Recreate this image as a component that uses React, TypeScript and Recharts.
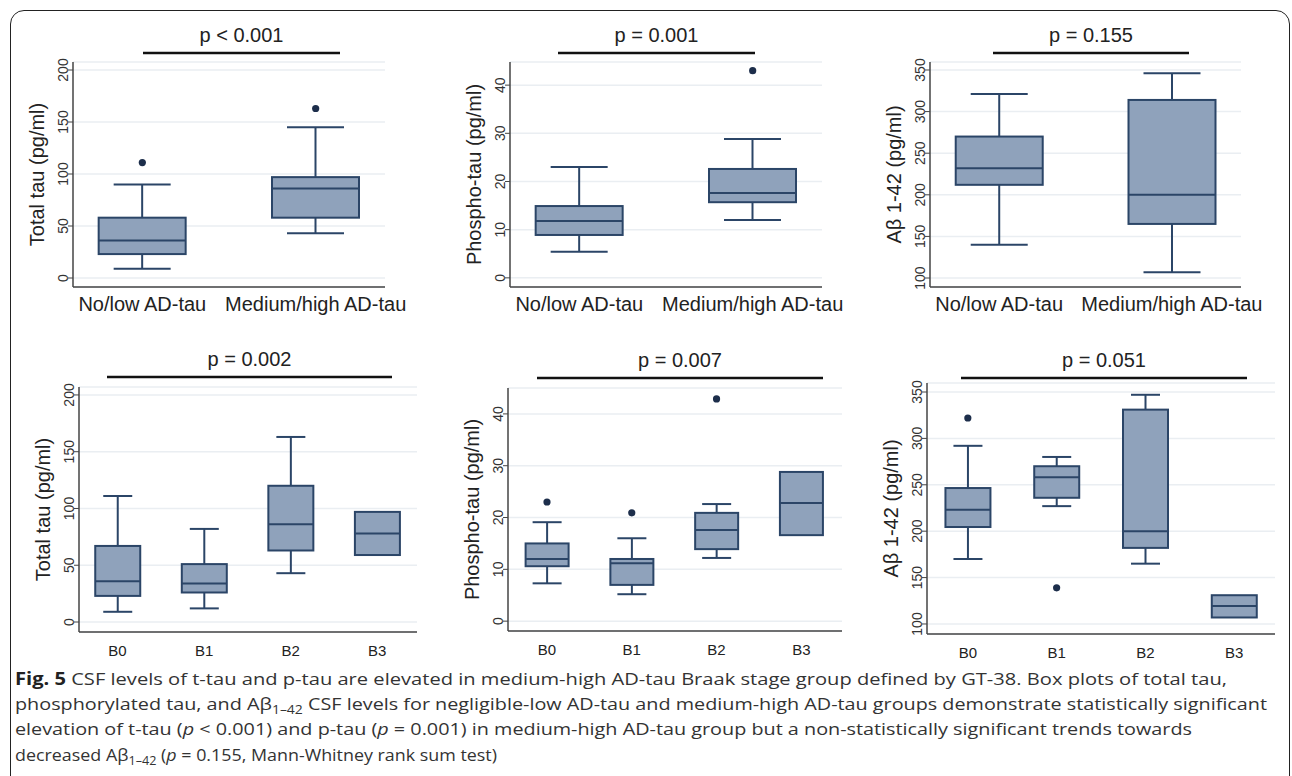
import React from 'react'
import { ComposedChart, Bar, Scatter, XAxis, YAxis, CartesianGrid, Label } from 'recharts'

const adGroups = ['No/low AD-tau', 'Medium/high AD-tau']
const braakGroups = ['B0', 'B1', 'B2', 'B3']

// box stats per group: [min, q1, median, q3, max]
const tTauAD = [[9, 23, 36, 58, 90], [43, 58, 86, 97, 145]]
const tTauADOut = [111, 163]
const pTauAD = [[5.4, 8.9, 11.8, 14.9, 23], [12, 15.7, 17.6, 22.6, 28.8]]
const pTauADOut = [null, 43]
const abAD = [[140, 212, 232, 270, 321], [107, 165, 200, 314, 346]]
const abADOut = [null, null]

const tTauBraak = [[9, 23, 36, 67, 111], [12, 26, 34, 51, 82], [43, 63, 86, 120, 163], [59, 59, 78, 97, 97]]
const tTauBraakOut = [null, null, null, null]
const pTauBraak = [[7.3, 10.6, 12, 15, 19.1], [5.2, 7, 11.2, 12, 16], [12.2, 13.9, 17.6, 20.9, 22.6], [16.6, 16.6, 22.8, 28.8, 28.8]]
const pTauBraakOut = [23, 20.9, 42.9, null]
const abBraak = [[170, 204.5, 223, 246.5, 292], [227, 236, 258, 270, 280], [165, 182, 200, 331, 347], [107, 107, 119.5, 131, 131]]
const abBraakOut = [322, 139, null, null]

const pLabels = ['p < 0.001', 'p = 0.001', 'p = 0.155', 'p = 0.002', 'p = 0.007', 'p = 0.051']
const yLabels = ['Total tau (pg/ml)', 'Phospho-tau (pg/ml)', 'Aβ 1-42 (pg/ml)']
const tauTicks = [0, 50, 100, 150, 200]
const pTauTicks = [0, 10, 20, 30, 40]
const abTicks = [100, 150, 200, 250, 300, 350]

const NAVY = '#2b4567'
const FILL = '#8fa2bb'

const toRows = (stats: number[][], out: (number | null)[]) =>
  stats.map((s, i) => ({
    pos: i + 1,
    range: [s[0], s[4]],
    lo: s[0], q1: s[1], med: s[2], q3: s[3], hi: s[4],
    outlier: out[i],
  }))

function BoxShape(props: any) {
  const { x, y, width, height, payload, capW } = props
  if (x == null || y == null) return <g />
  const top = Math.min(y, y + height)
  const bottom = Math.max(y, y + height)
  const { lo, q1, med, q3, hi } = payload
  // map values inside the bar's [lo, hi] pixel span
  const py = (v: number) => (hi === lo ? top : bottom - ((v - lo) / (hi - lo)) * (bottom - top))
  const cx = x + width / 2
  const yq1 = py(q1), yq3 = py(q3), ym = py(med)
  return (
    <g>
      {hi > q3 && (
        <>
          <line x1={cx} x2={cx} y1={top} y2={yq3} stroke={NAVY} strokeWidth={2} />
          <line x1={cx - capW / 2} x2={cx + capW / 2} y1={top} y2={top} stroke={NAVY} strokeWidth={2} />
        </>
      )}
      {lo < q1 && (
        <>
          <line x1={cx} x2={cx} y1={yq1} y2={bottom} stroke={NAVY} strokeWidth={2} />
          <line x1={cx - capW / 2} x2={cx + capW / 2} y1={bottom} y2={bottom} stroke={NAVY} strokeWidth={2} />
        </>
      )}
      <rect x={x} y={yq3} width={width} height={yq1 - yq3} fill={FILL} stroke={NAVY} strokeWidth={2} />
      <line x1={x} x2={x + width} y1={ym} y2={ym} stroke={NAVY} strokeWidth={2} />
    </g>
  )
}

function YTick(props: any) {
  const { x, y, payload } = props
  return (
    <text x={x} y={y} transform={`rotate(-90, ${x}, ${y})`} textAnchor="middle"
      fontSize={14} fill="#333" fontFamily="Liberation Sans, Arial, sans-serif">
      {payload.value}
    </text>
  )
}

interface PanelProps {
  rows: any[]
  cats: string[]
  yLabel: string
  yDomain: number[]
  yTicks: number[]
  xDomain: number[]
  p: string
  plot: { l: number; r: number; t: number; b: number }
  boxW: number
  capW: number
  xFont: number
  pLine: number[]
  pY: number
}

const YW = 75
const XH = 40
const RM = 45

function Panel({ rows, cats, yLabel, yDomain, yTicks, xDomain, p, plot, boxW, capW, xFont, pLine, pY }: PanelProps) {
  const left = plot.l - YW
  const top = plot.t - 5
  const w = plot.r - left + RM
  const h = plot.b - top + XH
  const ticks = cats.map((_, i) => i + 1)
  return (
    <>
      <svg style={{ position: 'absolute', left: 0, top: 0, overflow: 'visible' }} width={1} height={1}>
        <text x={(pLine[0] + pLine[1]) / 2} y={pY} textAnchor="middle" fontSize={20}
          fill="#222" fontFamily="Liberation Sans, Arial, sans-serif">{p}</text>
        <line x1={pLine[0]} x2={pLine[1]} y1={pY + 11} y2={pY + 11} stroke="#111" strokeWidth={2.5} />
      </svg>
      <div style={{ position: 'absolute', left, top }}>
        <ComposedChart width={w} height={h} data={rows} margin={{ top: 5, right: RM, left: 0, bottom: 0 }}>
          <CartesianGrid vertical={false} stroke="#eaeef2" strokeWidth={1.5} />
          <XAxis type="number" dataKey="pos" domain={xDomain} ticks={ticks} allowDataOverflow
            height={XH} tickLine={false} tickSize={0} axisLine={{ stroke: '#444', strokeWidth: 1.5 }}
            tick={(t: any) => (
              <text x={t.x} y={t.y + 22} textAnchor="middle" fontSize={xFont} fill="#222"
                fontFamily="Liberation Sans, Arial, sans-serif">{cats[t.payload.value - 1]}</text>
            )} />
          <YAxis type="number" domain={yDomain} ticks={yTicks} allowDataOverflow width={YW}
            tickSize={5} tickMargin={0} tickLine={{ stroke: '#444' }}
            axisLine={{ stroke: '#444', strokeWidth: 1.5 }} tick={<YTick />}>
            <Label content={(lp: any) => {
              const vb = lp.viewBox || { x: 0, y: 5, width: YW, height: plot.b - plot.t }
              const lx = vb.x + vb.width - 29
              const ly = vb.y + vb.height / 2
              return (
                <text x={lx} y={ly} transform={`rotate(-90, ${lx}, ${ly})`} textAnchor="middle"
                  fontSize={20} fill="#222" fontFamily="Liberation Sans, Arial, sans-serif">{yLabel}</text>
              )
            }} />
          </YAxis>
          <Bar dataKey="range" barSize={boxW} isAnimationActive={false}
            shape={(bp: any) => <BoxShape {...bp} capW={capW} />} />
          <Scatter dataKey="outlier" isAnimationActive={false}
            shape={(sp: any) => (sp.payload?.outlier == null ? <g /> :
              <circle cx={sp.cx} cy={sp.cy} r={3.6} fill="#1d2e4b" />)} />
        </ComposedChart>
      </div>
    </>
  )
}

const FONT_CAP = "'Open Sans', 'Noto Sans', sans-serif"

function Sub() {
  return <tspan fontSize={12} dy={4}>1–42</tspan>
}

export default function App() {
  const top = { t: 62, b: 287 }
  return (
    <div style={{ position: 'absolute', left: 0, top: 0, width: 1292, height: 776, overflow: 'hidden', background: '#fff' }}>
      <div style={{ position: 'absolute', left: 10, top: 10, width: 1278, height: 800, border: '1.5px solid #222', borderRadius: 14 }} />
      <Panel rows={toRows(tTauAD, tTauADOut)} cats={adGroups} yLabel={yLabels[0]} yDomain={[-8.65, 207.7]}
        yTicks={tauTicks} xDomain={[0.6, 2.4]} p={pLabels[0]} plot={{ l: 73, r: 385, ...top }}
        boxW={87} capW={57} xFont={20} pLine={[143, 340]} pY={42} />
      <Panel rows={toRows(pTauAD, pTauADOut)} cats={adGroups} yLabel={yLabels[1]} yDomain={[-1.9, 44.8]}
        yTicks={pTauTicks} xDomain={[0.6, 2.4]} p={pLabels[1]} plot={{ l: 510, r: 822, ...top }}
        boxW={87} capW={57} xFont={20} pLine={[558, 755]} pY={42} />
      <Panel rows={toRows(abAD, abADOut)} cats={adGroups} yLabel={yLabels[2]} yDomain={[89.2, 359.6]}
        yTicks={abTicks} xDomain={[0.6, 2.4]} p={pLabels[2]} plot={{ l: 930, r: 1241, ...top }}
        boxW={87} capW={57} xFont={20} pLine={[993, 1189]} pY={42} />
      <Panel rows={toRows(tTauBraak, tTauBraakOut)} cats={braakGroups} yLabel={yLabels[0]} yDomain={[-8.8, 207]}
        yTicks={tauTicks} xDomain={[0.555, 4.46]} p={pLabels[3]} plot={{ l: 79, r: 417, t: 387, b: 632 }}
        boxW={45} capW={29} xFont={15} pLine={[107, 392]} pY={366} />
      <Panel rows={toRows(pTauBraak, pTauBraakOut)} cats={braakGroups} yLabel={yLabels[1]} yDomain={[-1.9, 45]}
        yTicks={pTauTicks} xDomain={[0.54, 4.48]} p={pLabels[4]} plot={{ l: 508, r: 842, t: 388, b: 631 }}
        boxW={43} capW={29} xFont={15} pLine={[537, 823]} pY={367} />
      <Panel rows={toRows(abBraak, abBraakOut)} cats={braakGroups} yLabel={yLabels[2]} yDomain={[89.2, 359.7]}
        yTicks={abTicks} xDomain={[0.54, 4.46]} p={pLabels[5]} plot={{ l: 927, r: 1275, t: 383, b: 634 }}
        boxW={45} capW={29} xFont={15} pLine={[961, 1247]} pY={367} />
      <svg style={{ position: 'absolute', left: 0, top: 0 }} width={1292} height={776}>
        <g fontFamily={FONT_CAP} fontSize={17} fill="#333">
          <text x={15} y={685} textLength={1212} lengthAdjust="spacingAndGlyphs">
            <tspan fontWeight="bold" fill="#222">Fig. 5</tspan> CSF levels of t-tau and p-tau are elevated in medium-high AD-tau Braak stage group defined by GT-38. Box plots of total tau,
          </text>
          <text x={15} y={710} textLength={1252} lengthAdjust="spacingAndGlyphs">
            phosphorylated tau, and Aβ<Sub /><tspan dy={-4}> CSF levels for negligible-low AD-tau and medium-high AD-tau groups demonstrate statistically significant</tspan>
          </text>
          <text x={15} y={735} textLength={1177} lengthAdjust="spacingAndGlyphs">
            elevation of t-tau (<tspan fontStyle="italic">p</tspan> {'<'} 0.001) and p-tau (<tspan fontStyle="italic">p</tspan> = 0.001) in medium-high AD-tau group but a non-statistically significant trends towards
          </text>
          <text x={15} y={761} textLength={482} lengthAdjust="spacingAndGlyphs">
            decreased Aβ<Sub /><tspan dy={-4}> (</tspan><tspan fontStyle="italic">p</tspan> = 0.155, Mann-Whitney rank sum test)
          </text>
        </g>
      </svg>
    </div>
  )
}
